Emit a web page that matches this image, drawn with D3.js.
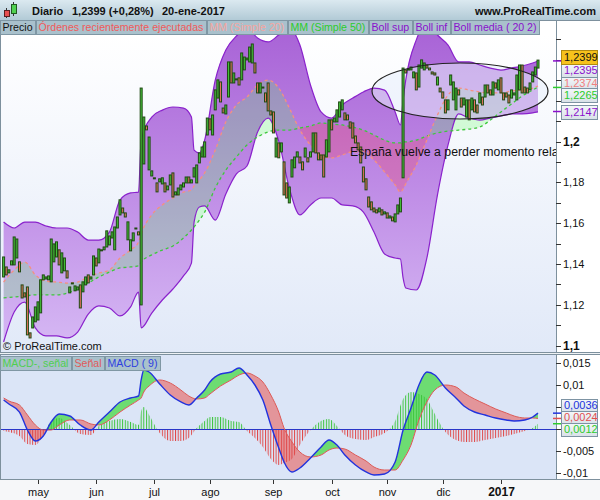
<!DOCTYPE html>
<html><head><meta charset="utf-8">
<script src="https://cdn.jsdelivr.net/npm/d3@7/dist/d3.min.js"></script>
<style>
html,body{margin:0;padding:0;background:#fff;}
svg{display:block;font-family:"Liberation Sans",Arial,sans-serif;}
</style></head><body>
<svg id="chart" width="600" height="500"></svg>
<script>
// ---------------- DATA ----------------
const opens = [1.1336,1.1385,1.1356,1.1395,1.1395,1.1429,1.1410,1.1297,1.1258,1.1287,
1.1062,1.1086,1.1116,1.1125,1.1160,1.1322,1.1326,1.1322,1.1312,1.1410,
1.1434,1.1469,1.1356,1.1366,1.1366,1.1258,1.1307,1.1268,1.1272,1.1297,
1.1263,1.1297,1.1346,1.1326,1.1346,1.1429,1.1405,1.1469,1.1469,1.1483,
1.1493,1.1527,1.1469,1.1576,1.1640,1.1674,1.1650,1.1518,1.1464,1.1513,
1.1576,1.1557,1.1199,1.1890,1.2076,1.1861,1.1831,1.1822,1.1797,1.1802,
1.1792,1.1797,1.1763,1.1787,1.1846,1.1738,1.1738,1.1763,1.1777,1.1797,
1.1826,1.1797,1.1826,1.1797,1.1895,1.1924,1.1924,1.2032,1.2111,1.2032,
1.2155,1.2213,1.2292,1.2164,1.2135,1.2218,1.2390,1.2287,1.2307,1.2312,
1.2302,1.2351,1.2400,1.2390,1.2385,1.2385,1.2287,1.2238,1.2267,1.2238,
1.2287,1.2150,1.2145,1.1924,1.1993,1.1949,1.1900,1.1797,1.1699,1.1826,
1.1871,1.1924,1.1924,1.1900,1.1924,1.1920,1.1924,1.1949,1.2042,1.1944,
1.1934,1.1934,1.1924,1.1949,1.2106,1.2096,1.2096,1.2120,1.2155,1.2140,
1.2130,1.2096,1.2091,1.2027,1.1993,1.1973,1.1875,1.1817,1.1728,1.1704,
1.1674,1.1665,1.1655,1.1665,1.1645,1.1650,1.1625,1.1630,1.1606,1.1645,
1.1655,1.1822,1.2351,1.2355,1.2351,1.2312,1.2336,1.2267,1.2360,1.2351,
1.2375,1.2360,1.2341,1.2336,1.2277,1.2262,1.2243,1.2204,1.2155,1.2277,
1.2204,1.2155,1.2253,1.2213,1.2179,1.2120,1.2204,1.2155,1.2204,1.2179,
1.2189,1.2218,1.2218,1.2277,1.2253,1.2228,1.2287,1.2253,1.2312,1.2238,
1.2238,1.2228,1.2213,1.2228,1.2204,1.2253,1.2375,1.2267,1.2262,1.2253,
1.2292,1.2326,1.2360];
const closes = [1.1434,1.1346,1.1371,1.1415,1.1532,1.1522,1.1361,1.1233,1.1238,1.1052,
1.1037,1.1140,1.1189,1.1214,1.1322,1.1346,1.1336,1.1341,1.1522,1.1498,
1.1508,1.1395,1.1454,1.1429,1.1331,1.1287,1.1302,1.1292,1.1287,1.1184,
1.1312,1.1336,1.1307,1.1336,1.1439,1.1390,1.1473,1.1464,1.1483,1.1562,
1.1537,1.1557,1.1581,1.1630,1.1714,1.1650,1.1630,1.1606,1.1518,1.1552,
1.1572,1.1542,1.2262,1.2120,1.2057,1.2022,1.1856,1.1817,1.1753,1.1817,
1.1822,1.1753,1.1782,1.1836,1.1728,1.1753,1.1772,1.1787,1.1797,1.1826,
1.1797,1.1812,1.1871,1.1885,1.1944,1.1973,1.1998,1.2115,1.2057,1.2130,
1.2253,1.2302,1.2194,1.2140,1.2179,1.2390,1.2287,1.2336,1.2302,1.2277,
1.2434,1.2414,1.2409,1.2463,1.2478,1.2336,1.2238,1.2287,1.2262,1.2194,
1.2150,1.2130,1.2042,1.2017,1.1920,1.1993,1.1738,1.1723,1.1777,1.1910,
1.1924,1.1949,1.1895,1.1861,1.1968,1.1900,1.1949,1.2042,1.1944,1.1910,
1.1910,1.1826,1.2008,1.2106,1.2057,1.2115,1.2155,1.2194,1.2204,1.2106,
1.2106,1.2066,1.2017,1.1993,1.1959,1.1895,1.1802,1.1763,1.1679,1.1665,
1.1655,1.1650,1.1674,1.1640,1.1655,1.1625,1.1635,1.1611,1.1645,1.1689,
1.1723,1.2360,1.2336,1.2351,1.2365,1.2341,1.2253,1.2375,1.2400,1.2385,
1.2360,1.2351,1.2331,1.2326,1.2316,1.2243,1.2213,1.2140,1.2204,1.2326,
1.2292,1.2262,1.2228,1.2169,1.2213,1.2204,1.2106,1.2213,1.2145,1.2140,
1.2238,1.2179,1.2277,1.2238,1.2228,1.2292,1.2262,1.2302,1.2238,1.2204,
1.2218,1.2189,1.2253,1.2238,1.2326,1.2375,1.2238,1.2238,1.2238,1.2287,
1.2341,1.2365,1.2399];

// indicator samples (bar index -> value)
const bbIdx = [0,4,8,12,16,20,24,28,32,36,40,44,48,51,52,56,60,64,68,71,72,74,76,80,84,88,92,96,100,104,108,112,116,120,124,128,132,136,140,144,148,150,151,152,156,160,164,168,172,176,180,184,188,192,196,200,202];
const bollSup = [1.1605,1.1576,1.1605,1.1605,1.1586,1.1576,1.1576,1.1556,1.1517,1.1517,1.1556,1.1713,1.1748,1.1752,1.2007,1.2120,1.2154,1.2169,1.2164,1.2120,1.1958,1.1944,1.2007,1.2301,1.2449,1.2517,1.2556,1.2507,1.2488,1.2522,1.2556,1.2473,1.2277,1.2145,1.2115,1.2179,1.2213,1.2243,1.2262,1.2252,1.2145,1.2081,1.2203,1.2301,1.2498,1.2586,1.2522,1.2473,1.2390,1.2390,1.2375,1.2360,1.2350,1.2360,1.2370,1.2385,1.2395];
const bollMedia = [1.1311,1.1370,1.1409,1.1346,1.1316,1.1311,1.1306,1.1311,1.1336,1.1355,1.1370,1.1429,1.1468,1.1507,1.1547,1.1640,1.1689,1.1723,1.1752,1.1762,1.1782,1.1811,1.1846,1.1958,1.2096,1.2179,1.2218,1.2277,1.2301,1.2262,1.2164,1.2056,1.1983,1.1934,1.1919,1.1934,1.1949,1.1949,1.1909,1.1851,1.1787,1.1752,1.1767,1.1792,1.1885,1.2007,1.2130,1.2228,1.2262,1.2252,1.2243,1.2238,1.2238,1.2248,1.2252,1.2262,1.2272];
const bollInf = [1.1017,1.1164,1.1213,1.1086,1.1047,1.1047,1.1037,1.1066,1.1154,1.1194,1.1184,1.1145,1.1189,1.1262,1.1086,1.1159,1.1223,1.1277,1.1341,1.1404,1.1605,1.1679,1.1684,1.1615,1.1743,1.1841,1.1880,1.2047,1.2115,1.2002,1.1772,1.1640,1.1689,1.1723,1.1723,1.1689,1.1684,1.1654,1.1556,1.1449,1.1429,1.1424,1.1331,1.1282,1.1272,1.1429,1.1738,1.1983,1.2135,1.2115,1.2105,1.2115,1.2125,1.2135,1.2135,1.2140,1.2145];
const sma50 = [1.1233,1.1238,1.1243,1.1248,1.1248,1.1248,1.1257,1.1277,1.1306,1.1336,1.1360,1.1380,1.1385,1.1390,1.1409,1.1444,1.1468,1.1488,1.1527,1.1566,1.1581,1.1615,1.1654,1.1772,1.1860,1.1924,1.1983,1.2022,1.2047,1.2056,1.2056,1.2066,1.2076,1.2091,1.2086,1.2081,1.2071,1.2056,1.2032,1.2007,1.1993,1.1993,1.1998,1.1998,1.2007,1.2027,1.2042,1.2051,1.2056,1.2061,1.2071,1.2105,1.2145,1.2184,1.2223,1.2252,1.2267];

const macdIdx = [0,2,6,9,12,15,18,21,25,29,33,36,40,44,48,51,52,53,55,59,63,67,70,73,76,78,82,86,89,92,95,98,101,104,106,109,112,116,120,123,126,129,133,137,140,144,148,151,154,157,160,163,167,171,174,178,182,186,190,193,197,200,202];
const macdLine = [.00659,.00568,.00386,-.00023,-.00273,-.00159,.00159,.00341,.00295,.00091,-.00023,.00159,.00386,.00614,.00705,.0075,.01114,.01341,.01295,.01023,.00773,.00614,.00545,.00705,.00886,.01068,.0125,.01295,.01386,.01227,.01,.00659,.00091,-.00432,-.0075,-.00977,-.00886,-.00659,-.00409,-.0025,-.00364,-.00591,-.00818,-.00977,-.01045,-.01023,-.0075,-.00023,.00477,.01,.01295,.01227,.00932,.00705,.00523,.00386,.00318,.0025,.00205,.00182,.00205,.00273,.0036];
const signalLine = [.00705,.00636,.00545,.00318,.00091,-.00023,-.00023,.00091,.00205,.00205,.00114,.00091,.00205,.00386,.00545,.00659,.00705,.00841,.00977,.01114,.01045,.00886,.0075,.00682,.00705,.00795,.00977,.01114,.01227,.01273,.01205,.01068,.00773,.00386,.00023,-.00295,-.00523,-.00636,-.00591,-.00477,-.00432,-.00455,-.00591,-.00727,-.00864,-.00932,-.00932,-.00705,-.00364,.00205,.00614,.00886,.01,.00955,.00818,.00682,.00568,.00455,.00364,.00295,.0025,.0025,.0024];

const monthLabels = ["may","jun","jul","ago","sep","oct","nov","dic","2017"];
const monthIdx = [13,35,57,78,102,124,145,166,188];
const priceTickVals = [1.10,1.11,1.12,1.13,1.14,1.15,1.16,1.17,1.18,1.19,1.20,1.21,1.22,1.23,1.24,1.25];
const priceLabelVals = [1.10,1.12,1.14,1.16,1.18,1.20];
const priceLabelText = ["1,1","1,12","1,14","1,16","1,18","1,2"];
const macdTickVals = [0.015,0.01,0.005,0,-0.005,-0.01];
const macdLabelVals = [0.015,0.01,-0.005,-0.01];
const macdLabelText = ["0,015","0,01","-0,005","-0,01"];
const priceBoxVals = [1.2399,1.2395,1.2374,1.2265,1.2147];
const priceBoxText = ["1,2399","1,2395","1,2374","1,2265","1,2147"];
const macdBoxVals = [0.0036,0.0024,0.0012];
const macdBoxText = ["0,0036","0,0024","0,0012"];
const legendPrice = ["Precio","Órdenes recientemente ejecutadas","MM (Simple 20)","MM (Simple 50)","Boll sup","Boll inf","Boll media ( 20 2)"];
const legendMacd = ["MACD-, señal","Señal","MACD ( 9)"];
const headerText = ["Diario","1,2399 (+0,28%)","20-ene-2017"];

// ---------------- SETUP ----------------
const svg = d3.select("#chart");
const defs = svg.append("defs");
const x = d3.scaleLinear().domain([0, closes.length-1]).range([3.6, 538]);
const yP = d3.scaleLinear().domain([1.1,1.2]).range([345.5,141.5]);
const yM = d3.scaleLinear().domain([-0.01,0.01]).range([473,385]);
const step = x(1)-x(0);
const curve = d3.curveMonotoneX;

function grad(id, y1, y2, stops){
  const g = defs.append("linearGradient").attr("id",id).attr("gradientUnits","userSpaceOnUse")
    .attr("x1",0).attr("x2",0).attr("y1",y1).attr("y2",y2);
  stops.forEach((c,i)=>g.append("stop").attr("offset",i/(stops.length-1)).attr("stop-color",c));
}
grad("hdr",0,20,["#dbe9f0","#b2cad6"]);
grad("pbg",34,352,["#ffffff","#e1e9f8"]);
grad("bbf",25,350,["#a862d6","#bf8ce6","#d6b9f4"]);
grad("box",0,1,["#f4f7fa","#d8e1e8"]);
defs.select("#box").attr("gradientUnits","objectBoundingBox");

function clipRect(id,x0,y0,w,h){defs.append("clipPath").attr("id",id).append("rect").attr("x",x0).attr("y",y0).attr("width",w).attr("height",h);}
clipRect("clipPrice",1,34,555,318);
clipRect("clipMacd",1,355,555,124);
clipRect("clipPos",0,0,600,yM(0));
clipRect("clipNeg",0,yM(0),600,500-yM(0));

const bb = bbIdx.map((d,i)=>({i:d,u:bollSup[i],m:bollMedia[i],l:bollInf[i],s:sma50[i]}));
defs.append("clipPath").attr("id","aboveS50").append("path")
  .attr("d", d3.area().x(d=>x(d.i)).y0(0).y1(d=>yP(d.s)).curve(curve)(bb));
defs.append("clipPath").attr("id","belowS50").append("path")
  .attr("d", d3.area().x(d=>x(d.i)).y0(600).y1(d=>yP(d.s)).curve(curve)(bb));

const md = macdIdx.map((d,i)=>({i:d,m:macdLine[i],s:signalLine[i]}));
defs.append("clipPath").attr("id","aboveSig").append("path")
  .attr("d", d3.area().x(d=>x(d.i)).y0(300).y1(d=>yM(d.s)).curve(curve)(md));
defs.append("clipPath").attr("id","belowSig").append("path")
  .attr("d", d3.area().x(d=>x(d.i)).y0(520).y1(d=>yM(d.s)).curve(curve)(md));

function hatch(id,color){
  defs.append("pattern").attr("id",id).attr("patternUnits","userSpaceOnUse")
    .attr("x",x(0)-0.5).attr("y",0).attr("width",step).attr("height",4)
    .append("rect").attr("width",1).attr("height",4).attr("fill",color);
}
hatch("hpos","#3cc43c"); hatch("hneg","#e04848");

// ---------------- BACKGROUNDS ----------------
svg.append("rect").attr("width",600).attr("height",500).attr("fill","#ffffff");
svg.append("rect").attr("x",0).attr("y",20).attr("width",556).attr("height",332).attr("fill","url(#pbg)");
svg.append("rect").attr("x",0).attr("y",355).attr("width",556).attr("height",124).attr("fill","#dbe5f7");
svg.append("rect").attr("x",0).attr("y",479).attr("width",600).attr("height",21).attr("fill","#f6f7f9");

// ---------------- PRICE PANEL ----------------
const gp = svg.append("g").attr("clip-path","url(#clipPrice)");
gp.append("path").attr("d", d3.area().x(d=>x(d.i)).y0(d=>yP(d.l)).y1(d=>yP(d.u)).curve(curve)(bb))
  .attr("fill","url(#bbf)");
const maArea = d3.area().x(d=>x(d.i)).y0(d=>yP(d.s)).y1(d=>yP(d.m)).curve(curve);
gp.append("g").attr("clip-path","url(#aboveS50)").append("path").attr("d",maArea(bb))
  .attr("fill","rgba(90,255,90,0.24)");
gp.append("g").attr("clip-path","url(#belowS50)").append("path").attr("d",maArea(bb))
  .attr("fill","rgba(255,50,70,0.24)");
gp.append("ellipse").attr("cx",460).attr("cy",91).attr("rx",88).attr("ry",28)
  .attr("fill","rgba(232,238,252,0.55)");
const line = (acc)=>d3.line().x(d=>x(d.i)).y(d=>yP(acc(d))).curve(curve)(bb);
gp.append("path").attr("d",line(d=>d.u)).attr("fill","none").attr("stroke","#8a22cc").attr("stroke-width",1.2);
gp.append("path").attr("d",line(d=>d.l)).attr("fill","none").attr("stroke","#8a22cc").attr("stroke-width",1.2);
gp.append("path").attr("d",line(d=>d.s)).attr("fill","none").attr("stroke","#3cc83c").attr("stroke-width",1.3).attr("stroke-dasharray","3,3");
gp.append("path").attr("d",line(d=>d.m)).attr("fill","none").attr("stroke","#f59080").attr("stroke-width",1.3).attr("stroke-dasharray","3,3");

const candles = closes.map((c,i)=>({i,o:opens[i],c}));
gp.append("g").selectAll("rect").data(candles).join("rect")
  .attr("x",d=>x(d.i)-1).attr("width",2)
  .attr("y",d=>yP(Math.max(d.o,d.c)))
  .attr("height",d=>Math.max(1,Math.abs(yP(d.o)-yP(d.c))))
  .attr("fill",d=>d.c>=d.o?"#44c23a":"#e8735e")
  .attr("stroke","#1f4a12").attr("stroke-width",1);

gp.append("ellipse").attr("cx",460).attr("cy",91).attr("rx",88).attr("ry",28)
  .attr("fill","none").attr("stroke","#222").attr("stroke-width",1.2);
gp.append("text").attr("x",350).attr("y",156).attr("font-size",12.3).attr("fill","#111")
  .text("España vuelve a perder momento relativo");
svg.append("text").attr("x",3).attr("y",350).attr("font-size",11).attr("fill","#111").text("© ProRealTime.com");

// ---------------- MACD PANEL ----------------
const gm = svg.append("g").attr("clip-path","url(#clipMacd)");
const mArea = d3.area().x(d=>x(d.i)).y0(d=>yM(d.s)).y1(d=>yM(d.m)).curve(curve);
gm.append("g").attr("clip-path","url(#aboveSig)").append("path").attr("d",mArea(md)).attr("fill","#6ddc72");
gm.append("g").attr("clip-path","url(#belowSig)").append("path").attr("d",mArea(md)).attr("fill","#e3959a");
const hArea = d3.area().x(d=>x(d.i)).y0(yM(0)).y1(d=>yM(d.m-d.s)).curve(curve);
gm.append("g").attr("clip-path","url(#clipPos)").append("path").attr("d",hArea(md)).attr("fill","url(#hpos)");
gm.append("g").attr("clip-path","url(#clipNeg)").append("path").attr("d",hArea(md)).attr("fill","url(#hneg)");
gm.append("line").attr("x1",0).attr("x2",556).attr("y1",yM(0)+0.5).attr("y2",yM(0)+0.5).attr("stroke","#2a36c8").attr("stroke-width",1);
gm.append("path").attr("d",d3.line().x(d=>x(d.i)).y(d=>yM(d.s)).curve(curve)(md)).attr("fill","none").attr("stroke","#e05858").attr("stroke-width",1);
gm.append("path").attr("d",d3.line().x(d=>x(d.i)).y(d=>yM(d.m)).curve(curve)(md)).attr("fill","none").attr("stroke","#2233dd").attr("stroke-width",1.4);

// ---------------- FRAMES ----------------
const frame = "#7d909d";
svg.append("rect").attr("x",0).attr("y",0).attr("width",600).attr("height",20).attr("fill","url(#hdr)");
svg.append("line").attr("x1",0).attr("x2",600).attr("y1",20.5).attr("y2",20.5).attr("stroke",frame);
svg.append("rect").attr("x",556).attr("y",21).attr("width",44).attr("height",458).attr("fill","#ffffff");
svg.append("line").attr("x1",556.5).attr("x2",556.5).attr("y1",20).attr("y2",479).attr("stroke",frame);
svg.append("line").attr("x1",0.5).attr("x2",0.5).attr("y1",20).attr("y2",479).attr("stroke",frame);
svg.append("rect").attr("x",0).attr("y",352).attr("width",600).attr("height",3).attr("fill","#eef2f5");
svg.append("line").attr("x1",0).attr("x2",600).attr("y1",352.5).attr("y2",352.5).attr("stroke",frame);
svg.append("line").attr("x1",0).attr("x2",600).attr("y1",354.5).attr("y2",354.5).attr("stroke",frame);
svg.append("line").attr("x1",0).attr("x2",600).attr("y1",479.5).attr("y2",479.5).attr("stroke",frame);

// header
const hg = svg.append("g");
hg.append("line").attr("x1",6.5).attr("x2",6.5).attr("y1",8).attr("y2",18).attr("stroke","#333");
hg.append("rect").attr("x",4.5).attr("y",10.5).attr("width",5).attr("height",6).attr("fill","#e85050").attr("stroke","#5a2020");
hg.append("line").attr("x1",13.5).attr("x2",13.5).attr("y1",2).attr("y2",16).attr("stroke","#333");
hg.append("rect").attr("x",11.5).attr("y",4.5).attr("width",5).attr("height",9).attr("fill","#50d050").attr("stroke","#205a20");
const hx = [32,72,162];
headerText.forEach((t,i)=>hg.append("text").attr("x",hx[i]).attr("y",15).attr("font-size",11).attr("font-weight","bold").attr("fill","#111").text(t));
hg.append("text").attr("x",596).attr("y",15).attr("text-anchor","end").attr("font-size",11).attr("font-weight","bold").attr("fill","#111").text("www.ProRealTime.com");

// legends
function legendRow(items, colors, y0, h){
  let cx = 0;
  items.forEach((t,i)=>{
    const g = svg.append("g");
    const r = g.append("rect").attr("y",y0+0.5).attr("height",h).attr("fill","#a9c1cc").attr("stroke","#7f97a4");
    const tx = g.append("text").attr("x",cx+2.5).attr("y",y0+h-3).attr("font-size",10.6).attr("fill",colors[i]).text(t);
    const w = Math.round(tx.node().getComputedTextLength())+5;
    r.attr("x",cx+0.5).attr("width",w);
    cx += w+1;
  });
}
legendRow(legendPrice,["#111","#f05a5a","#f6a5a0","#2ccc2c","#8a10cc","#8a10cc","#8a10cc"],20,14);
legendRow(legendMacd,["#4fcf4f","#e05a5a","#2f3fe0"],356,14);

// price axis
const ax = svg.append("g");
priceTickVals.forEach(v=>ax.append("line").attr("x1",556).attr("x2",561).attr("y1",Math.round(yP(v))+0.5).attr("y2",Math.round(yP(v))+0.5).attr("stroke","#333"));
priceLabelVals.forEach((v,i)=>{
  const bold = priceLabelText[i].length===3;
  ax.append("text").attr("x",563).attr("y",yP(v)+4).attr("font-size",bold?12:11).attr("font-weight",bold?"bold":"normal").attr("fill","#111").text(priceLabelText[i]);
});
macdTickVals.forEach(v=>ax.append("line").attr("x1",556).attr("x2",561).attr("y1",Math.round(yM(v))+0.5).attr("y2",Math.round(yM(v))+0.5).attr("stroke","#333"));
macdLabelVals.forEach((v,i)=>ax.append("text").attr("x",563).attr("y",yM(v)+4).attr("font-size",11).attr("fill","#111").text(macdLabelText[i]));

// value boxes
function vbox(yc, h, text, color, fill, stroke){
  ax.append("rect").attr("x",561.5).attr("y",Math.round(yc-h/2)+0.5).attr("width",36).attr("height",h).attr("fill",fill).attr("stroke",stroke);
  ax.append("text").attr("x",564).attr("y",yc+4).attr("font-size",11).attr("fill",color).text(text);
}
const pColors = ["#111","#8a10cc","#f08080","#2ccc2c","#8a10cc"];
const pCenters = [56.5,69.5,83,95,112];
[1,3,4].forEach(i=>ax.append("line").attr("x1",553).attr("x2",561).attr("y1",yP(priceBoxVals[i])).attr("y2",yP(priceBoxVals[i])).attr("stroke",pColors[i]).attr("stroke-width",1.5));
[2,1,3,4,0].forEach(i=>vbox(pCenters[i],14,priceBoxText[i],pColors[i],i===0?"#f6c21c":"url(#box)",i===0?"#b08a10":"#7d93a3"));
const mColors = ["#2233dd","#e05050","#2ccc2c"];
const mCenters = [405,417,429];
macdBoxVals.forEach((v,i)=>ax.append("line").attr("x1",553).attr("x2",561).attr("y1",yM(v)).attr("y2",yM(v)).attr("stroke",mColors[i]).attr("stroke-width",1.5));
[0,1,2].forEach(i=>vbox(mCenters[i],13,macdBoxText[i],mColors[i],"url(#box)","#7d93a3"));

// x axis
monthIdx.forEach((d,i)=>{
  const xx = Math.round(x(d))+0.5;
  svg.append("line").attr("x1",xx).attr("x2",xx).attr("y1",480).attr("y2",484).attr("stroke","#333");
  const last = i===monthLabels.length-1;
  svg.append("text").attr("x",xx).attr("y",496).attr("text-anchor","middle")
    .attr("font-size",last?12:11).attr("font-weight",last?"bold":"normal").attr("fill","#111").text(monthLabels[i]);
});
</script>
</body></html>
